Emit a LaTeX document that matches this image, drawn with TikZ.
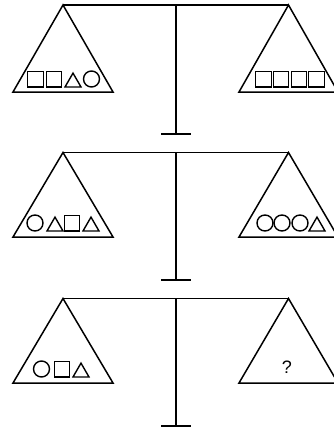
\documentclass[tikz,border=0pt]{standalone}
\usepackage{fontspec}
\newfontfamily\qfont{Liberation Sans}
\usetikzlibrary{shapes.geometric}
\tikzset{
 beam/.style={line width=1.8pt},
 pan/.style={line width=1.5pt, line join=miter},
 sq/.style={draw, rectangle, minimum size=15.5pt, inner sep=0pt, outer sep=0pt, line width=1.4pt, anchor=south},
 ci/.style={draw, circle, minimum size=16pt, inner sep=0pt, outer sep=0pt, line width=1.4pt, anchor=south},
 tri/.style={draw, regular polygon, regular polygon sides=3, minimum size=18.5pt, inner sep=0pt, outer sep=0pt, line width=1.4pt, anchor=south},
 qm/.style={inner sep=0pt},
}
% #1 prefix, #2 beam y, #3 base y, #4 stand bottom y
\newcommand\mybalance[4]{%
 \coordinate (#1la) at (63,#2);
 \coordinate (#1ra) at (288.5,#2);
 \coordinate (#1m) at (176,#2);
 \coordinate (#1f) at (176,#4);
 \coordinate (#1fl) at (161,#4);
 \coordinate (#1fr) at (191,#4);
 \coordinate (#1lb) at (13,#3);
 \coordinate (#1lc) at (113,#3);
 \coordinate (#1rb) at (239,#3);
 \coordinate (#1rc) at (338,#3);
 \draw[beam] (#1la) -- (#1ra);
 \draw[beam] (#1m) -- (#1f);
 \draw[beam] (#1fl) -- (#1fr);
 \draw[pan] (#1la) -- (#1lb) -- (#1lc) -- cycle;
 \draw[pan] (#1ra) -- (#1rb) -- (#1rc) -- cycle;
}
\begin{document}
\begin{tikzpicture}[x=1pt,y=-1pt]
\clip (0,0) rectangle (334,428);
\mybalance{a}{5}{92}{134}
\mybalance{b}{152.5}{237}{280}
\mybalance{c}{298.5}{383}{426}
% panel 1
\node[sq] (a1) at (35.5,87) {};
\node[sq] (a2) at (54,87) {};
\node[tri] (a3) at (73,87) {};
\node[ci] (a4) at (91.5,87) {};
\node[sq] (a5) at (263.5,87) {};
\node[sq] (a6) at (281,87) {};
\node[sq] (a7) at (299,87) {};
\node[sq] (a8) at (316.5,87) {};
% panel 2
\node[ci] (b1) at (35,231) {};
\node[tri] (b2) at (55,231) {};
\node[sq] (b3) at (72,231) {};
\node[tri] (b4) at (91,231) {};
\node[ci] (b5) at (265,231) {};
\node[ci] (b6) at (282,231) {};
\node[ci] (b7) at (300,231) {};
\node[tri] (b8) at (317,231) {};
% panel 3
\node[ci] (c1) at (41.5,377) {};
\node[sq] (c2) at (62,377) {};
\node[tri] (c3) at (81,377) {};
\node[qm] (c4) at (287,367) {\qfont\fontsize{18}{20}\selectfont ?};
\end{tikzpicture}
\end{document}
